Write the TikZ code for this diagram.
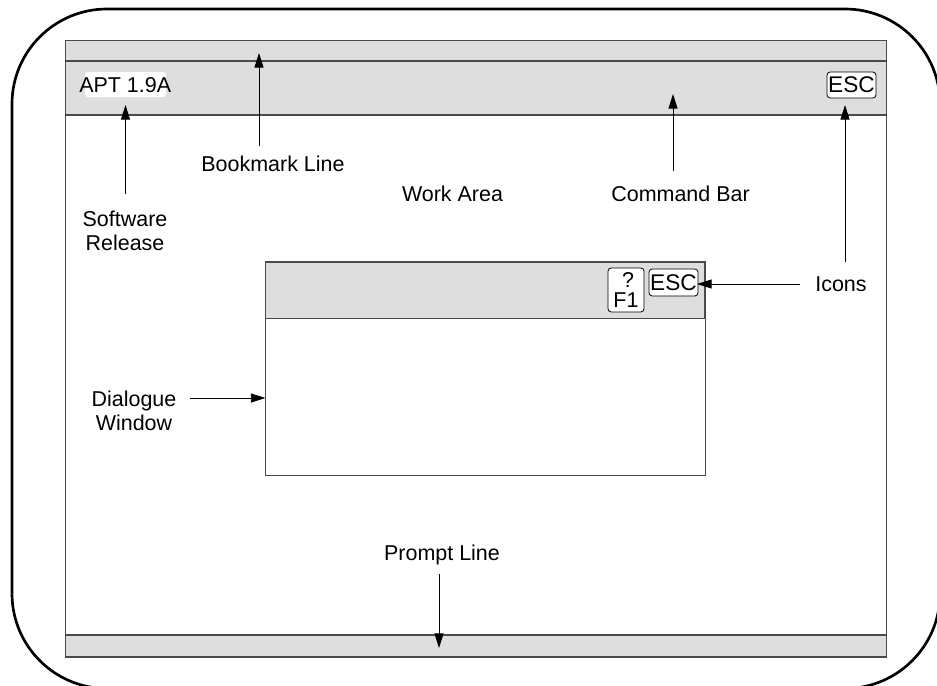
\documentclass[tikz,border=0pt]{standalone}
\usepackage{fontspec}
\setmainfont{Liberation Sans}
\usetikzlibrary{arrows.meta}
\definecolor{barfill}{HTML}{DEDEDE}
\definecolor{linegray}{HTML}{4A4A4A}
\tikzset{
  px/.style={x=0.75pt,y=-0.75pt},
  lbl/.style={font=\fontsize{16.1pt}{18pt}\selectfont,align=center,inner sep=0pt,text=black},
  bar/.style={fill=barfill,draw=linegray,line width=0.9pt},
  box/.style={draw=linegray,line width=0.75pt},
  icon/.style={draw=black,fill=white,line width=0.6pt,rounded corners=2.4pt,font=\fontsize{17pt}{15pt}\selectfont,align=center,inner sep=0pt},
  ptr/.style={draw=black,line width=0.65pt,-{Triangle[length=11pt,width=6.8pt]}},
  frameline/.style={draw=black,line width=2pt}
}
\begin{document}
\begin{tikzpicture}[px]
\useasboundingbox (0,0) rectangle (937,685);
\clip (0,0) rectangle (937,685);
% outer frame
\draw[frameline] (12,593.5) -- (12,104) .. controls (12,51.5) and (54.5,9) .. (107,9) -- (845,9) .. controls (897.5,9) and (940,51.5) .. (940,104);
\draw[frameline] (12,593.5) .. controls (12,646) and (54.5,688.5) .. (107,688.5);
\draw[frameline] (940,593.5) .. controls (940,646) and (897.5,688.5) .. (845,688.5);
% screen
\draw[box] (65.5,40.5) rectangle (886.5,657);
\draw[bar] (65.5,40.5) rectangle (886.5,61);
\draw[bar] (65.5,61) rectangle (886.5,115);
\draw[bar] (65.5,635) rectangle (886.5,657);
% dialogue
\draw[box,fill=white] (265.5,262) rectangle (705,475);
\draw[bar] (265.5,262) rectangle (705,318.5);
% status items
\node[fill=white,rounded corners=2pt,minimum width=60.75pt,minimum height=18.75pt,inner sep=0pt] (relbg) at (125.5,84.5) {};
\node[lbl,anchor=west] (rel) at (79,85) {APT 1.9A};
\node[icon,minimum width=36.75pt,minimum height=19.5pt] (esca) at (851.5,85) {ESC};
\node[icon,minimum width=27pt,minimum height=33pt,font=\fontsize{16.1pt}{15pt}\selectfont] (f1) at (626,290) {\hspace*{3pt}?\\F1};
\node[icon,minimum width=36.75pt,minimum height=20.25pt] (escb) at (673.5,282.5) {ESC};
% labels
\node[lbl] (lsr) at (125,231) {Software\\Release};
\node[lbl] (lbm) at (273,164) {Bookmark Line};
\node[lbl] (lwa) at (452.5,194) {Work Area};
\node[lbl] (lcb) at (680.5,194) {Command Bar};
\node[lbl] (lic) at (841,284) {Icons};
\node[lbl] (ldw) at (134,411) {Dialogue\\Window};
\node[lbl] (lpl) at (442,555) {Prompt Line};
% connector ends
\coordinate (srtail) at (125.5,194);
\coordinate (srtip) at (125.5,105);
\coordinate (bmtail) at (259,146);
\coordinate (bmtip) at (259,53);
\coordinate (cbtail) at (673,171);
\coordinate (cbtip) at (673,94);
\coordinate (ictail) at (845,262);
\coordinate (ictip) at (845,105);
\coordinate (iwtail) at (800,284);
\coordinate (iwtip) at (697,284);
\coordinate (dwtail) at (190,398);
\coordinate (dwtip) at (265.5,398);
\coordinate (pltail) at (439,574);
\coordinate (pltip) at (439,648);
% connectors
\draw[ptr] (srtail) -- (srtip);
\draw[ptr] (bmtail) -- (bmtip);
\draw[ptr] (cbtail) -- (cbtip);
\draw[ptr] (ictail) -- (ictip);
\draw[ptr] (iwtail) -- (iwtip);
\draw[ptr] (dwtail) -- (dwtip);
\draw[ptr] (pltail) -- (pltip);
\end{tikzpicture}
\end{document}
